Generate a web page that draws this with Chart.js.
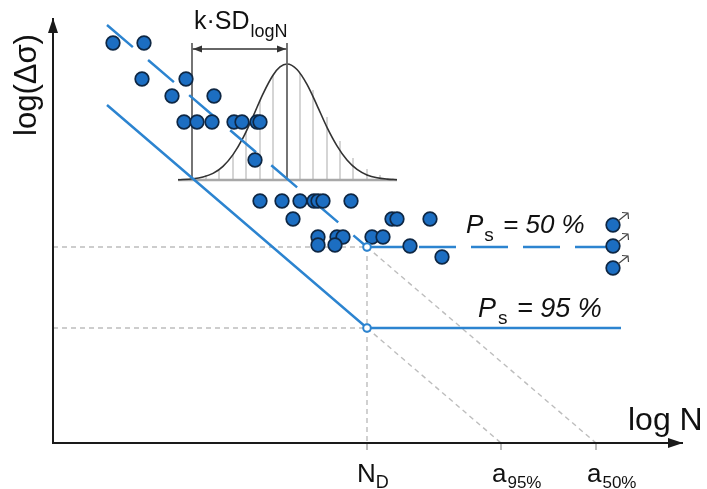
<!DOCTYPE html>
<html><head><meta charset="utf-8">
<script src="https://cdn.jsdelivr.net/npm/chart.js@4"></script>
<style>html,body{margin:0;padding:0;background:#fff}#wrap{width:707px;height:489px;position:relative}</style>
</head><body><div id="wrap"><canvas id="c"></canvas></div>
<script>
// ---- data (schematic units: log N horizontally, log(Δσ) vertically) ----
const specimenX = [6.0, 9.1, 8.9, 13.3, 11.9, 16.1, 13.1, 14.4, 15.9, 18.1, 18.9, 20.4, 20.7, 20.2,
  20.7, 22.9, 24.7, 26.1, 26.5, 27.0, 29.8, 24.0, 33.9, 34.4, 37.7, 26.5, 28.4, 29.0, 31.9, 33.0,
  26.5, 28.2, 35.7, 38.9];
const specimenY = [40.0, 40.0, 36.4, 36.4, 34.7, 34.7, 32.1, 32.1, 32.1, 32.1, 32.1, 32.1, 32.1, 28.3,
  24.2, 24.2, 24.2, 24.2, 24.2, 24.2, 24.2, 22.4, 22.4, 22.4, 22.4, 20.6, 20.6, 20.6, 20.6, 20.6,
  19.8, 19.8, 19.7, 18.6];
const runoutX = [56.0, 56.0, 56.0];
const runoutY = [21.8, 19.7, 17.5];
const ND = 31.4, A95 = 44.8, A50 = 54.3;
const S50 = 19.6, S95 = 11.5;
const line50SlopeX = [5.4, 31.4], line50SlopeY = [41.8, 19.6];
const line50FlatX = [31.4, 56.7], line50FlatY = [19.6, 19.6];
const line95X = [5.4, 31.4, 56.8], line95Y = [33.8, 11.5, 11.5];
const bellX = [12.5, 14.0, 15.0, 16.0, 17.0, 18.0, 19.0, 20.0, 21.0, 22.0, 22.7, 23.4, 24.4, 25.4, 26.4, 27.4, 28.4, 29.4, 30.4, 31.4, 32.4, 33.4, 34.4];
const bellY = [26.32, 26.42, 26.6, 26.96, 27.67, 28.84, 30.51, 32.65, 34.92, 36.78, 37.61, 37.9, 37.35, 35.86, 33.77, 31.57, 29.72, 28.3, 27.36, 26.81, 26.52, 26.39, 26.33];
const bellBase = 26.3;
const hatchX = [15.3, 16.6, 18.0, 19.3, 20.7, 22.0, 24.7, 26.0, 27.4, 28.7, 30.0, 31.4, 32.7, 34.0];
const hatchTop = [26.8, 27.4, 28.84, 31.1, 34.2, 36.78, 37.0, 35.3, 32.6, 30.2, 28.5, 27.4, 26.8, 26.45];
const sdLeftX = 13.9, sdRightX = 23.4, sdTop = 40.0, sdArrowY = 39.4;
const axisXEnd = 63.0, axisYEnd = 42.5;
const tickXs = [ND, A95, A50];

// ---- helpers ----
const pts = (xs, ys) => xs.map((x, i) => ({x, y: ys[i]}));
const BLUE = '#2c84d0';
const GREY = '#bdbdbd';
const segs = (list) => { const out = []; list.forEach((s, i) => { if (i) out.push({x: s[0].x, y: null}); out.push(...s); }); return out; };

const gridSegs = segs([
  [{x: 0, y: S50}, {x: ND, y: S50}],
  [{x: 0, y: S95}, {x: ND, y: S95}],
  [{x: ND, y: S50}, {x: ND, y: 0}],
  [{x: ND, y: S50}, {x: A50, y: 0}],
  [{x: ND, y: S95}, {x: A95, y: 0}]
]);
const hatchSegs = segs(hatchX.map((x, i) => [{x, y: bellBase}, {x, y: hatchTop[i]}]));
const tickSegs = segs(tickXs.map(x => [{x, y: 0}, {x, y: -0.7}]));

const lineDS = (data, color, width, extra) => Object.assign({
  type: 'line', data, borderColor: color, borderWidth: width, pointRadius: 0, fill: false,
  showLine: true, spanGaps: false, tension: 0
}, extra || {});

const datasets = [
  lineDS(gridSegs, GREY, 1.4, {borderDash: [5, 4], order: 10}),
  lineDS(tickSegs, '#999', 1.3, {order: 10}),
  lineDS(hatchSegs, '#c8c8c8', 1.5, {order: 9}),
  lineDS(pts([bellX[0], bellX[bellX.length - 1]], [bellBase, bellBase]), '#a8a8a8', 2.4, {order: 8}),
  lineDS(segs([[{x: sdLeftX, y: bellBase}, {x: sdLeftX, y: sdTop}], [{x: sdRightX, y: bellBase}, {x: sdRightX, y: sdTop}]]), '#666', 1.8, {order: 7}),
  lineDS(pts(bellX, bellY), '#333', 1.6, {cubicInterpolationMode: 'monotone', order: 7}),
  lineDS(pts([sdLeftX, sdRightX], [sdArrowY, sdArrowY]), '#333', 1.3, {order: 7}),
  lineDS(pts([0, 0, axisXEnd], [axisYEnd, 0, 0]), '#1a1a1a', 2, {order: 6}),
  lineDS(pts(line95X, line95Y), BLUE, 2.5, {order: 5}),
  lineDS(pts(line50SlopeX, line50SlopeY), BLUE, 2.5, {borderDash: [34, 20], order: 5}),
  lineDS(pts(line50FlatX, line50FlatY), BLUE, 2.5, {borderDash: [37, 15], order: 5}),
  {type: 'scatter', data: pts(specimenX.concat(runoutX), specimenY.concat(runoutY)), pointRadius: 6.8,
   pointBackgroundColor: '#1c6ec2', pointBorderColor: '#0e2744', pointBorderWidth: 1.7, order: 1},
  {type: 'scatter', data: pts([ND, ND], [S50, S95]), pointRadius: 3.8, pointBackgroundColor: '#fff',
   pointBorderColor: BLUE, pointBorderWidth: 2, order: 0}
];

function runs(ctx, x, y, parts) {
  let cx = x;
  parts.forEach(p => {
    ctx.font = p.f;
    ctx.fillText(p.t, cx + (p.dx || 0), y + (p.dy || 0));
    cx += (p.dx || 0) + ctx.measureText(p.t).width;
  });
}
function tri(ctx, tip, dir, len, half) {
  const [tx, ty] = tip, [dx, dy] = dir;
  const bx = tx - dx * len, by = ty - dy * len;
  ctx.beginPath();
  ctx.moveTo(tx, ty);
  ctx.lineTo(bx - dy * half, by + dx * half);
  ctx.lineTo(bx + dy * half, by - dx * half);
  ctx.closePath();
  ctx.fill();
}

const FONT = "'Liberation Sans', Arial, sans-serif";
const decor = {
  id: 'decor',
  afterDatasetsDraw(chart) {
    const ctx = chart.ctx, xs = chart.scales.x, ys = chart.scales.y;
    const X = v => xs.getPixelForValue(v), Y = v => ys.getPixelForValue(v);
    ctx.save();
    ctx.fillStyle = '#1a1a1a';
    // axis arrowheads
    tri(ctx, [X(0), Y(axisYEnd)], [0, -1], 15, 5);
    tri(ctx, [X(axisXEnd), Y(0)], [1, 0], 15, 5);
    // k·SD arrowheads
    ctx.fillStyle = '#333';
    tri(ctx, [X(sdLeftX) + 1, Y(sdArrowY)], [-1, 0], 9, 3.5);
    tri(ctx, [X(sdRightX) - 1, Y(sdArrowY)], [1, 0], 9, 3.5);
    // run-out arrows
    ctx.strokeStyle = '#444'; ctx.lineWidth = 1.2;
    runoutX.forEach((rx, i) => {
      const px = X(rx), py = Y(runoutY[i]);
      const sx = px + 5, sy = py - 4, ex = px + 15, ey = py - 12;
      ctx.beginPath(); ctx.moveTo(sx, sy); ctx.lineTo(ex, ey);
      ctx.moveTo(ex - 6, ey - 0.5); ctx.lineTo(ex, ey); ctx.lineTo(ex + 0.5, ey + 6);
      ctx.stroke();
    });
    // texts
    ctx.fillStyle = '#111';
    ctx.textBaseline = 'alphabetic';
    ctx.save();
    ctx.translate(36, 85); ctx.rotate(-Math.PI / 2);
    ctx.textAlign = 'center';
    ctx.font = '31px ' + FONT;
    ctx.fillText('log(Δσ)', 0, 0);
    ctx.restore();
    ctx.textAlign = 'left';
    runs(ctx, 628, 430, [{t: 'log N', f: '32px ' + FONT}]);
    runs(ctx, 357, 482, [{t: 'N', f: '26px ' + FONT}, {t: 'D', f: '18px ' + FONT, dy: 6}]);
    runs(ctx, 492, 482, [{t: 'a', f: '26px ' + FONT}, {t: '95%', f: '17px ' + FONT, dy: 6, dx: 1}]);
    runs(ctx, 587, 482, [{t: 'a', f: '26px ' + FONT}, {t: '50%', f: '17px ' + FONT, dy: 6, dx: 1}]);
    runs(ctx, 194, 29, [{t: 'k·SD', f: '25px ' + FONT}, {t: 'logN', f: '18px ' + FONT, dy: 8, dx: 1}]);
    runs(ctx, 466, 233, [{t: 'P', f: 'italic 26px ' + FONT}, {t: 's', f: '19px ' + FONT, dy: 8, dx: 1}, {t: ' = 50 %', f: 'italic 26px ' + FONT, dx: 2}]);
    runs(ctx, 478, 317, [{t: 'P', f: 'italic 27px ' + FONT}, {t: 's', f: '19px ' + FONT, dy: 7, dx: 2}, {t: ' = 95 %', f: 'italic 27px ' + FONT, dx: 2}]);
    ctx.restore();
  }
};

new Chart(document.getElementById('c'), {
  type: 'scatter',
  data: {datasets},
  options: {
    responsive: true, maintainAspectRatio: false, animation: false, devicePixelRatio: 1,
    layout: {padding: 0, autoPadding: false},
    plugins: {legend: {display: false}, tooltip: {enabled: false}, title: {display: false}},
    scales: {
      x: {type: 'linear', min: -5.3, max: 65.4, display: false},
      y: {type: 'linear', min: -4.6, max: 44.3, display: false}
    },
    elements: {line: {borderCapStyle: 'butt'}}
  },
  plugins: [decor]
});
</script>
</body></html>
